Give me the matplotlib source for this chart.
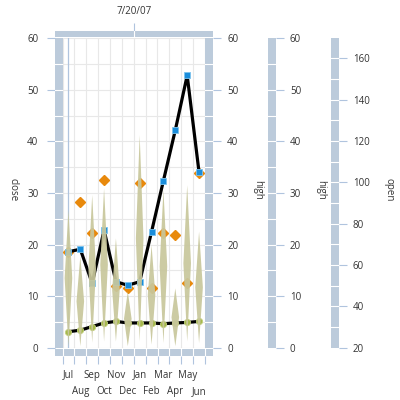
import numpy as np
import matplotlib
matplotlib.use("Agg")
import matplotlib.pyplot as plt

plt.rcParams['font.family'] = ['Open Sans', 'DejaVu Sans']

months = ["Jul", "Aug", "Sep", "Oct", "Nov", "Dec", "Jan", "Feb", "Mar", "Apr", "May", "Jun"]
close = [18.6, 19.1, 12.5, 22.8, 12.8, 12.1, 12.8, 22.5, 32.4, 42.2, 52.8, 34.0]
low = [3.1, 3.4, 4.1, 4.8, 5.1, 4.8, 4.8, 4.8, 4.65, 4.8, 4.9, 5.1]
high = [18.6, 28.3, 22.3, 32.5, 11.9, 11.6, 32.0, 11.6, 22.3, 21.9, 12.5, 33.8]
spread_lo = [0.3, 0.3, 1.0, 1.2, 1.2, 0.3, 1.2, 0.6, 0.9, 0.3, 1.2, 0.9]
spread_hi = [26.7, 17.7, 29.6, 30.9, 21.2, 10.9, 41.2, 19.9, 30.6, 11.5, 31.5, 22.5]
top_tick = [5.5]
top_labels = ["7/20/07"]

BAND = "#bccbdb"
TICK = "#b0c4de"
GRID = "#e8e8e8"
TXT = "#333333"
W = H = 400


def px_rect(x0, y0, x1, y1):
    return [x0 / W, 1 - y1 / H, (x1 - x0) / W, (y1 - y0) / H]


fig = plt.figure(figsize=(4, 4), dpi=100)

# main plot area
ax = fig.add_axes(px_rect(62.5, 38.3, 205, 347.7))
ax.set_xlim(-0.5, 11.5)
ax.set_ylim(0, 60)
for s in ax.spines.values():
    s.set_visible(False)
ax.set_xticks(np.arange(-0.5, 12, 1))
ax.set_yticks(np.arange(0, 61, 5))
ax.tick_params(length=0, labelbottom=False, labelleft=False)
ax.grid(True, color=GRID, lw=0.8)
ax.set_axisbelow(True)
ax.axvline(0, color=TICK, lw=0.9, zorder=1)

x = np.arange(len(months))
ax.plot(x, high, ls="none", marker="D", ms=4.8, color="#e8890c", zorder=3)
ax.plot(x, close, color="black", lw=2.3, marker="s", ms=5, mfc="#1a8ddb",
        mec="#7cc3ee", mew=0.6, zorder=4)
ax.plot(x, low, color="black", lw=2.3, marker="o", ms=4.5, mfc="#a5b84b",
        mec="#c3d07f", mew=0.6, zorder=5)
w = 0.32
for i in x:
    lo, hi = spread_lo[i], spread_hi[i]
    mid = (lo + hi) / 2
    ax.fill([i - w, i, i + w, i], [mid, hi, mid, lo], color="#c8c79c",
            alpha=0.93, lw=0, zorder=6)


def band(rect):
    b = fig.add_axes(px_rect(*rect))
    b.set_facecolor(BAND)
    for s in b.spines.values():
        s.set_visible(False)
    b.tick_params(which="both", colors=TICK, labelcolor=TXT, labelsize=7,
                  length=6, width=0.8)
    return b


u = (205 - 62.5) / 12
xl = (-0.5 - 7.5 / u, 11.5 + 8.3 / u)

# top band
tb = band((55, 30.5, 213.3, 37.3))
tb.set_xlim(*xl)
tb.set_yticks([])
tb.xaxis.tick_top()
tb.set_xticks(top_tick)
tb.set_xticklabels(top_labels)
tb.tick_params(axis="x", pad=4)
for v in top_tick:
    tb.axvline(v, color="white", lw=0.8)

# bottom band, month labels in two staggered rows
bb = band((55, 348.7, 213.3, 355.7))
bb.set_xlim(*xl)
bb.set_yticks([])
bb.set_xticks(x[::2])
bb.set_xticklabels(months[::2])
bb.set_xticks(np.arange(-0.5, 12, 1), minor=True)
bb.tick_params(axis="x", which="major", length=0, pad=10)
for v in np.arange(-0.5, 12, 1):
    bb.axvline(v, color="white", lw=0.8)

bb2 = fig.add_axes(px_rect(55, 348.7, 213.3, 355.7), frameon=False)
bb2.set_xlim(*xl)
bb2.set_yticks([])
bb2.set_xticks(x[1::2])
bb2.set_xticklabels(months[1::2])
bb2.tick_params(axis="x", length=0, pad=22, labelsize=7, labelcolor=TXT)
bb2.patch.set_alpha(0)

# left band
lb = band((55, 38.3, 62.5, 347.7))
lb.set_ylim(0, 60)
lb.set_xticks([])
lb.set_yticks(np.arange(0, 61, 10))
lb.tick_params(axis="y", pad=6)
for v in np.arange(5, 60, 5):
    lb.axhline(v, color="white", lw=0.8)

# right band of main plot
rb = band((205, 38.3, 213.3, 347.7))
rb.set_ylim(0, 60)
rb.set_xticks([])
rb.yaxis.tick_right()
rb.set_yticks(np.arange(0, 61, 10))
rb.tick_params(axis="y", pad=4)
for v in np.arange(5, 60, 5):
    rb.axhline(v, color="white", lw=0.8)

# second high axis
hb = band((268.3, 38.3, 276, 347.7))
hb.set_ylim(0, 60)
hb.set_xticks([])
hb.yaxis.tick_right()
hb.set_yticks(np.arange(0, 61, 10))
hb.tick_params(axis="y", pad=4)
for v in np.arange(5, 60, 5):
    hb.axhline(v, color="white", lw=0.8)

# open axis
ob = band((331, 38.3, 339, 347.7))
ob.set_ylim(20, 169.7)
ob.set_xticks([])
ob.yaxis.tick_right()
ob.set_yticks(np.arange(20, 161, 20))
ob.tick_params(axis="y", pad=4)
for v in np.arange(30, 161, 10):
    ob.axhline(v, color="white", lw=0.8)

for xp, lab in [(13, "close"), (258, "high"), (321, "high"), (389, "open")]:
    fig.text(xp / W, 1 - 190 / H, lab, rotation=270, ha="center", va="center",
             fontsize=7, color=TXT)

fig.savefig("out.png", dpi=100)
